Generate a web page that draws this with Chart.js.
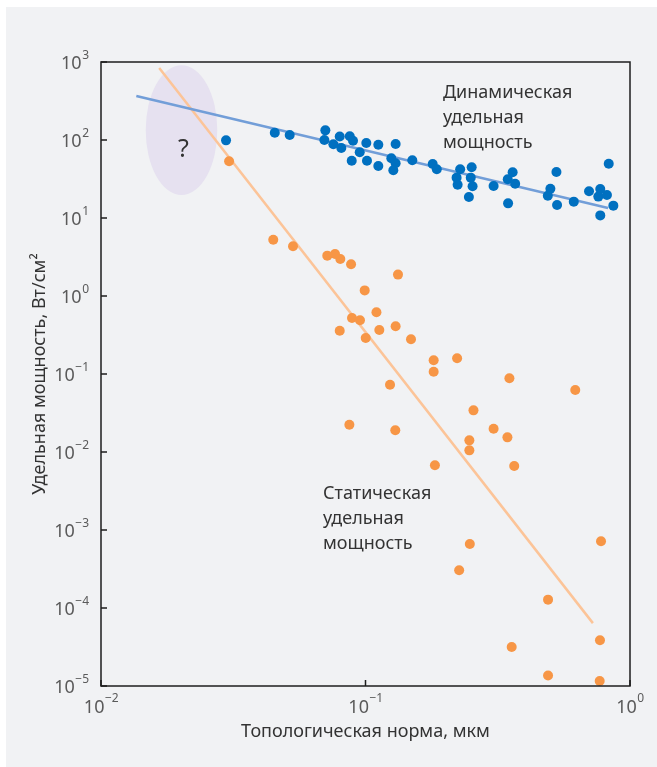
<!DOCTYPE html>
<html lang="ru">
<head>
<meta charset="utf-8">
<title>Удельная мощность</title>
<script src="https://cdn.jsdelivr.net/npm/chart.js@4/dist/chart.umd.min.js"></script>
<style>
  html, body { margin: 0; padding: 0; background: #ffffff; }
  canvas { display: block; }
</style>
</head>
<body>
<canvas id="chart" width="657" height="767"></canvas>
<script>
// Dynamic power density, W/cm², versus feature size, µm
const dynX = [0.0297, 0.0454, 0.0517, 0.0705, 0.0699, 0.0799, 0.0756, 0.0872, 0.0897, 0.081,
              0.1007, 0.1118, 0.130, 0.0951, 0.0887, 0.1013, 0.1118, 0.1252, 0.130, 0.1274,
              0.1503, 0.1795, 0.186, 0.228, 0.252, 0.221, 0.223, 0.250, 0.254, 0.246,
              0.305, 0.360, 0.345, 0.368, 0.346, 0.527, 0.500, 0.489, 0.530, 0.613,
              0.700, 0.772, 0.759, 0.818, 0.831, 0.865, 0.772];
const dynY = [99, 124, 116, 133, 100, 111, 88, 112, 98, 79,
              91.5, 87, 89, 69.6, 54.3, 54.3, 46.4, 58.3, 50.3, 40.9,
              54.9, 49.2, 42.1, 42.1, 44.7, 32.9, 26.7, 32.9, 25.5, 18.6,
              25.7, 38.5, 31.4, 27.5, 15.4, 38.9, 23.7, 19.3, 14.7, 16.2,
              22.0, 23.5, 18.8, 19.7, 49.7, 14.4, 10.8];

// Static (leakage) power density, W/cm², versus feature size, µm
const statX = [0.0305, 0.0448, 0.0532, 0.0717, 0.0767, 0.0803, 0.0882, 0.1327, 0.0993, 0.110,
               0.0889, 0.0953, 0.0799, 0.1128, 0.130, 0.1002, 0.1486, 0.1238, 0.0869, 0.1296,
               0.181, 0.181, 0.222, 0.350, 0.621, 0.256, 0.305, 0.344, 0.247, 0.247,
               0.183, 0.365, 0.248, 0.777, 0.226, 0.490, 0.770, 0.357, 0.490, 0.768];
const statY = [53.3, 5.27, 4.34, 3.29, 3.46, 2.98, 2.55, 1.88, 1.18, 0.618,
               0.522, 0.488, 0.359, 0.366, 0.409, 0.289, 0.279, 0.0729, 0.0224, 0.019,
               0.150, 0.107, 0.159, 0.0881, 0.0624, 0.0342, 0.0199, 0.0154, 0.0141, 0.0105,
               0.00675, 0.00661, 6.61e-4, 7.16e-4, 3.04e-4, 1.28e-4, 3.86e-5, 3.16e-5, 1.36e-5, 1.16e-5];

// Trend lines (end points)
const dynFitX = [0.0136, 0.826];
const dynFitY = [366, 13.4];
const statFitX = [0.0166, 0.724];
const statFitY = [837, 6.4e-5];

// Axis decades
const xTicks = [0.01, 0.1, 1];
const yTicks = [1e-5, 1e-4, 1e-3, 1e-2, 1e-1, 1, 10, 100, 1000];

// Texts
const xTitle = 'Топологическая норма, мкм';
const yTitle = 'Удельная мощность, Вт/см²';
const dynLabel = ['Динамическая', 'удельная', 'мощность'];
const statLabel = ['Статическая', 'удельная', 'мощность'];
const unknownMark = '?';

// Unexplored region (ellipse bounds in data units) and label anchors
const unknownBoxX = [0.01476, 0.02752];
const unknownBoxY = [907, 19.7];
const unknownTextAt = [0.0205, 75.5];
const dynLabelAt = [0.1963, 400];
const statLabelAt = [0.0691, 0.00289];

const pts = (xs, ys) => xs.map((x, i) => ({ x, y: ys[i] }));

const FONT = '"Noto Sans", "Open Sans", "DejaVu Sans", sans-serif';

function expText(v) {
  const e = Math.round(Math.log10(v));
  return e < 0 ? '\u2212' + Math.abs(e) : String(e);
}

const decor = {
  id: 'decor',
  beforeDraw(chart) {
    const ctx = chart.ctx;
    ctx.save();
    ctx.fillStyle = '#ffffff';
    ctx.fillRect(0, 0, chart.width, chart.height);
    ctx.fillStyle = '#f1f2f4';
    ctx.fillRect(6, 7, chart.width - 6, chart.height - 7);
    ctx.restore();
  },
  beforeDatasetsDraw(chart) {
    const { ctx, scales: { x, y } } = chart;
    const x0 = x.getPixelForValue(unknownBoxX[0]);
    const x1 = x.getPixelForValue(unknownBoxX[1]);
    const y0 = y.getPixelForValue(unknownBoxY[0]);
    const y1 = y.getPixelForValue(unknownBoxY[1]);
    ctx.save();
    ctx.fillStyle = '#e6e1f0';
    ctx.beginPath();
    ctx.ellipse((x0 + x1) / 2, (y0 + y1) / 2, Math.abs(x1 - x0) / 2, Math.abs(y1 - y0) / 2, 0, 0, Math.PI * 2);
    ctx.fill();
    ctx.fillStyle = '#333333';
    ctx.font = '25px ' + FONT;
    ctx.textAlign = 'center';
    ctx.textBaseline = 'middle';
    ctx.fillText(unknownMark, x.getPixelForValue(unknownTextAt[0]), y.getPixelForValue(unknownTextAt[1]));
    ctx.restore();
  },
  afterDraw(chart) {
    const { ctx, chartArea: a, scales: { x, y } } = chart;
    ctx.save();

    // frame
    ctx.strokeStyle = '#1e1e1e';
    ctx.lineWidth = 1.5;
    ctx.strokeRect(a.left, a.top, a.right - a.left, a.bottom - a.top);

    // inward ticks
    ctx.lineWidth = 1.5;
    ctx.beginPath();
    yTicks.forEach(v => {
      const py = y.getPixelForValue(v);
      ctx.moveTo(a.left, py); ctx.lineTo(a.left + 6, py);
    });
    xTicks.forEach(v => {
      const px = x.getPixelForValue(v);
      ctx.moveTo(px, a.bottom); ctx.lineTo(px, a.bottom - 6);
    });
    ctx.stroke();

    // tick labels 10^n
    const big = '18px ' + FONT, small = '12px ' + FONT;
    ctx.fillStyle = '#5a5a5a';
    ctx.textBaseline = 'alphabetic';
    yTicks.forEach(v => {
      const py = y.getPixelForValue(v);
      const e = expText(v);
      ctx.font = small;
      const ew = ctx.measureText(e).width;
      ctx.textAlign = 'right';
      ctx.fillText(e, a.left - 12, py - 3);
      ctx.font = big;
      ctx.fillText('10', a.left - 12 - ew - 0.5, py + 7);
    });
    xTicks.forEach(v => {
      const px = x.getPixelForValue(v);
      const e = expText(v);
      ctx.font = small;
      const ew = ctx.measureText(e).width;
      ctx.font = big;
      const bw = ctx.measureText('10').width;
      const left = px - (bw + ew) / 2;
      ctx.textAlign = 'left';
      ctx.fillText('10', left, a.bottom + 27);
      ctx.font = small;
      ctx.fillText(e, left + bw + 0.5, a.bottom + 16);
    });

    // axis titles
    ctx.fillStyle = '#333333';
    ctx.font = '18px ' + FONT;
    ctx.textAlign = 'center';
    ctx.textBaseline = 'middle';
    ctx.fillText(xTitle, (a.left + a.right) / 2, a.bottom + 46);
    ctx.save();
    ctx.translate(40, (a.top + a.bottom) / 2);
    ctx.rotate(-Math.PI / 2);
    ctx.fillText(yTitle, 0, 0);
    ctx.restore();

    // series annotations
    ctx.font = '18px ' + FONT;
    ctx.textAlign = 'left';
    const block = (lines, at) => {
      const px = x.getPixelForValue(at[0]);
      const py = y.getPixelForValue(at[1]);
      lines.forEach((t, i) => ctx.fillText(t, px, py + i * 25));
    };
    block(dynLabel, dynLabelAt);
    block(statLabel, statLabelAt);

    ctx.restore();
  }
};

new Chart(document.getElementById('chart'), {
  type: 'scatter',
  data: {
    datasets: [
      {
        label: 'Динамическая удельная мощность',
        data: pts(dynX, dynY),
        backgroundColor: '#0070c0',
        borderWidth: 0,
        pointRadius: 5,
        pointHoverRadius: 5,
        clip: false,
        order: 1
      },
      {
        label: 'Статическая удельная мощность',
        data: pts(statX, statY),
        backgroundColor: '#f79646',
        borderWidth: 0,
        pointRadius: 5,
        pointHoverRadius: 5,
        clip: false,
        order: 1
      },
      {
        label: 'Тренд динамической мощности',
        data: pts(dynFitX, dynFitY),
        showLine: true,
        borderColor: 'rgb(114,158,216)',
        borderWidth: 2.5,
        pointRadius: 0,
        order: 2
      },
      {
        label: 'Тренд статической мощности',
        data: pts(statFitX, statFitY),
        showLine: true,
        borderColor: 'rgb(252,196,152)',
        borderWidth: 2.5,
        pointRadius: 0,
        order: 2
      }
    ]
  },
  options: {
    responsive: false,
    animation: false,
    devicePixelRatio: 1,
    layout: { padding: { left: 101, top: 62, right: 27, bottom: 81 } },
    plugins: { legend: { display: false }, tooltip: { enabled: false } },
    events: [],
    scales: {
      x: { type: 'logarithmic', min: 0.01, max: 1, display: false },
      y: { type: 'logarithmic', min: 1e-5, max: 1000, display: false }
    }
  },
  plugins: [decor]
});
</script>
</body>
</html>
